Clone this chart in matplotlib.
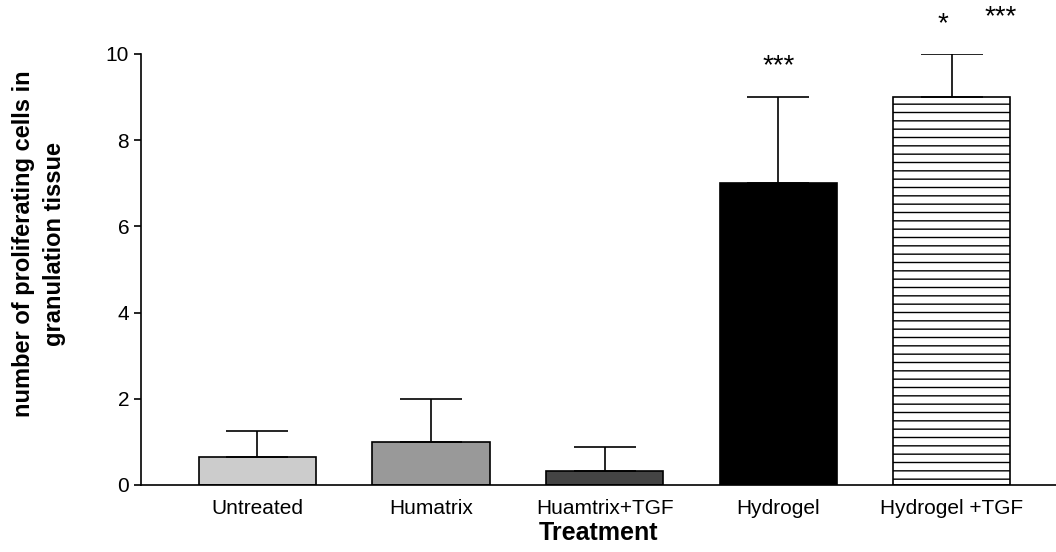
import matplotlib.pyplot as plt
import numpy as np

plt.rcParams['font.family'] = ['Liberation Sans', 'DejaVu Sans']
plt.rcParams['hatch.linewidth'] = 1.0

treatments = ["Untreated", "Humatrix", "Huamtrix+TGF", "Hydrogel", "Hydrogel +TGF"]
means = [0.65, 1.0, 0.33, 7.0, 9.0]
errors = [0.6, 1.0, 0.55, 2.0, 1.0]
colors = ["#cccccc", "#999999", "#444444", "#000000", "#ffffff"]
hatches = [None, None, None, None, "--"]

fig = plt.figure(figsize=(10.56, 5.52), dpi=100)
ax = fig.add_axes([0.1335, 0.1214, 0.8665, 0.7808])

x = np.arange(len(treatments))
for i in range(len(treatments)):
    ax.bar(x[i], means[i], width=0.675, color=colors[i], edgecolor="black",
           linewidth=1.2, hatch=hatches[i], zorder=2)
    ax.errorbar(x[i], means[i], yerr=[[0], [errors[i]]], fmt="none",
                ecolor="black", elinewidth=1.2, capsize=22, capthick=1.2, zorder=3)

# significance marks
ax.text(x[3], 9.72, "***", ha="center", va="center", fontsize=20, clip_on=False)
ax.text(x[4] - 0.05, 10.7, "*", ha="center", va="center", fontsize=20, clip_on=False)
ax.text(x[4] + 0.28, 10.85, "***", ha="center", va="center", fontsize=20, clip_on=False)

ax.set_xlim(-0.67, 4.6)
ax.set_ylim(0, 10)
ax.set_yticks([0, 2, 4, 6, 8, 10])
ax.set_xticks(x)
ax.set_xticklabels(treatments, fontsize=15)
ax.tick_params(axis="x", length=0, pad=10)
ax.tick_params(axis="y", labelsize=15, length=5, width=1.2)
for s in ["top", "right"]:
    ax.spines[s].set_visible(False)
for s in ["left", "bottom"]:
    ax.spines[s].set_linewidth(1.2)

ax.set_xlabel("Treatment", fontsize=18, fontweight="bold", labelpad=2)
ax.set_ylabel("number of proliferating cells in\ngranulation tissue", fontsize=17,
              fontweight="bold", linespacing=1.45)
ax.yaxis.set_label_coords(-0.082, 0.56)

fig.savefig("out.png", dpi=100)
